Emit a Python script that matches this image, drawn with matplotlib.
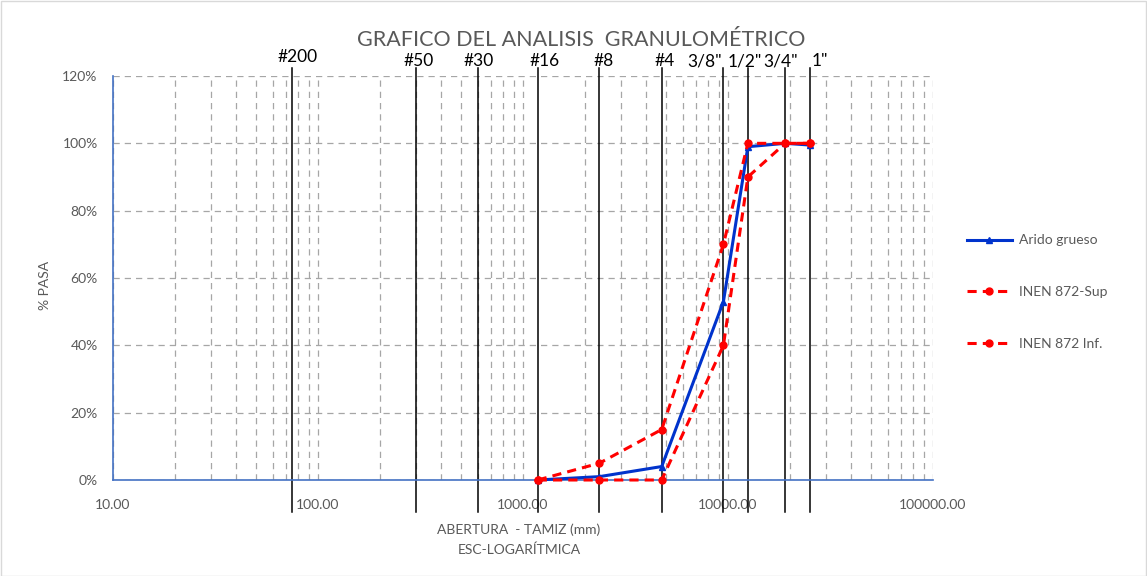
import matplotlib
matplotlib.use("Agg")
import matplotlib.pyplot as plt
import matplotlib.transforms as mtransforms
from matplotlib.patches import Rectangle
from matplotlib.ticker import FixedLocator, LogLocator, NullFormatter, FuncFormatter

plt.rcParams['font.family'] = ['Lato', 'DejaVu Sans']

# ---- data ----
sieve_names = ["#200", "#50", "#30", "#16", "#8", "#4", '3/8"', '1/2"', '3/4"', '1"']
sieve_sizes = [75, 300, 600, 1180, 2360, 4750, 9500, 12500, 19000, 25000]
label_dx_px = [5, 3, 1, 7, 4, 3, -19, -3, -5, 10]
label_dy_px = [4, 0, 0, 0, 0, 0, 0, 0, 0, 0]

x_series = [1180, 2360, 4750, 9500, 12500, 19000, 25000]
arido = [0, 1, 4, 53, 99, 100, 99.5]
sup = [0, 5, 15, 70, 100, 100, 100]
inf = [0, 0, 0, 40, 90, 100, 100]

yticks = [0, 20, 40, 60, 80, 100, 120]
xticks = [10, 100, 1000, 10000, 100000]

W, H = 1147, 576
fig = plt.figure(figsize=(W / 100, H / 100), dpi=100)
ax = fig.add_axes([113 / W, (H - 480) / H, (933 - 113) / W, (480 - 76) / H])

grid_col = '#a6a6a6'
text_col = '#595959'

ax.set_xscale('log')
ax.set_xlim(10, 100000)
ax.set_ylim(0, 120)

ax.xaxis.set_major_locator(FixedLocator(xticks))
ax.xaxis.set_minor_locator(LogLocator(base=10, subs=range(2, 10), numticks=20))
ax.xaxis.set_minor_formatter(NullFormatter())
ax.xaxis.set_major_formatter(FuncFormatter(lambda v, p: f"{v:.2f}"))
ax.set_yticks(yticks)
ax.yaxis.set_major_formatter(FuncFormatter(lambda v, p: f"{int(v)}%"))

ax.grid(True, which='both', axis='x', color=grid_col, linestyle=(0, (5, 4)), linewidth=0.9)
ax.grid(True, which='major', axis='y', color=grid_col, linestyle=(0, (5, 4)), linewidth=0.9)
ax.set_axisbelow(True)

for s in ['top', 'right']:
    ax.spines[s].set_visible(False)
ax.spines['left'].set_color('#4472c4')
ax.spines['bottom'].set_color('#4472c4')
ax.spines['left'].set_linewidth(1.2)
ax.spines['bottom'].set_linewidth(1.2)
ax.tick_params(which='both', length=0, colors=text_col, labelsize=10)
ax.tick_params(axis='x', pad=14)
ax.tick_params(axis='y', pad=11)

# sieve lines and labels
trans = mtransforms.blended_transform_factory(ax.transData, ax.transAxes)
for name, sz, dx, dy in zip(sieve_names, sieve_sizes, label_dx_px, label_dy_px):
    ax.plot([sz, sz], [-0.079, 1.02], transform=trans, color='black', lw=1.1,
            clip_on=False, zorder=2)
    ax.annotate(name, xy=(sz, 1.037), xycoords=trans, xytext=(dx * 0.72, dy * 0.72),
                textcoords='offset points', ha='center', va='center', fontsize=12.5,
                color='black', annotation_clip=False)

# series
ax.plot(x_series, sup, color='#ff0000', lw=2.2, ls=(0, (3, 2)), marker='o', ms=5,
        label='INEN 872-Sup', zorder=4, clip_on=False)
ax.plot(x_series, inf, color='#ff0000', lw=2.2, ls=(0, (3, 2)), marker='o', ms=5,
        label='INEN 872 Inf.', zorder=4, clip_on=False)
l1, = ax.plot(x_series, arido, color='#0033cc', lw=2.2, marker='^', ms=4,
              label='Arido grueso', zorder=3, clip_on=False)

handles, labels = ax.get_legend_handles_labels()
order = [2, 0, 1]
leg = fig.legend([handles[i] for i in order], [labels[i] for i in order],
                 loc='center left', bbox_to_anchor=(954 / W, (H - 292) / H),
                 frameon=False, fontsize=10, labelspacing=2.85, handlelength=3.3,
                 handletextpad=0.5)
for t in leg.get_texts():
    t.set_color(text_col)

fig.text(581 / W, 1 - 40 / H, "GRAFICO DEL ANALISIS  GRANULOMÉTRICO", ha='center',
         va='center', fontsize=15.5, color=text_col)
fig.text(519 / W, 1 - 530 / H, "ABERTURA  - TAMIZ (mm)", ha='center', va='center',
         fontsize=10, color=text_col)
fig.text(519 / W, 1 - 550 / H, "ESC-LOGARÍTMICA", ha='center', va='center',
         fontsize=10, color=text_col)
fig.text(45 / W, 1 - 285 / H, "% PASA", ha='center', va='center', rotation=90,
         fontsize=10, color=text_col)

fig.patches.append(Rectangle((0.5 / W, 0.5 / H), 1 - 1.5 / W, 1 - 1.5 / H,
                             transform=fig.transFigure, fill=False,
                             edgecolor='#d9d9d9', lw=1))

fig.savefig('out.png', dpi=100)
